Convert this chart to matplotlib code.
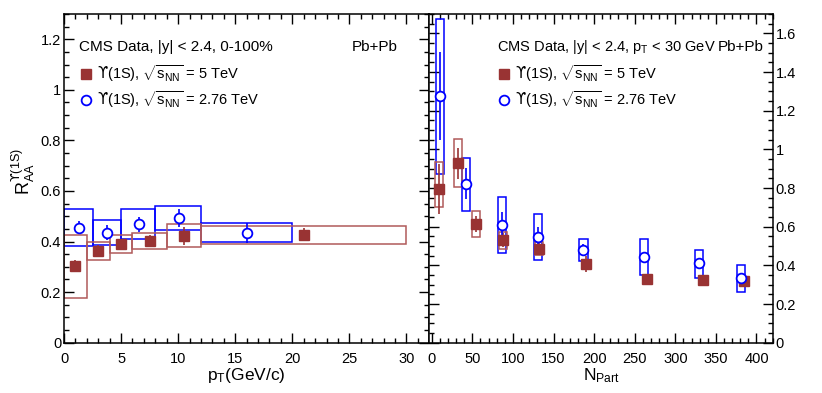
import matplotlib
matplotlib.use("Agg")
import matplotlib.pyplot as plt
from matplotlib.lines import Line2D
from matplotlib.ticker import MultipleLocator, FuncFormatter

plt.rcParams['font.family'] = ['Liberation Sans', 'DejaVu Sans']
plt.rcParams['mathtext.fontset'] = 'custom'
plt.rcParams['mathtext.rm'] = 'Liberation Sans'
plt.rcParams['mathtext.it'] = 'Liberation Sans:italic'
plt.rcParams['mathtext.bf'] = 'Liberation Sans:bold'
plt.rcParams['mathtext.sf'] = 'DejaVu Sans'
plt.rcParams['mathtext.default'] = 'regular'

# ---------------- data: R_AA vs pT ----------------
pt_5_x = [1.0, 3.0, 5.0, 7.5, 10.5, 21.0]
pt_5_y = [0.303, 0.362, 0.390, 0.402, 0.423, 0.427]
pt_5_stat = [0.025, 0.025, 0.02, 0.025, 0.036, 0.025]
pt_5_lo_edge = [0, 2, 4, 6, 9, 12]
pt_5_hi_edge = [2, 4, 6, 9, 12, 30]
pt_5_sys_lo = [0.178, 0.327, 0.353, 0.369, 0.377, 0.389]
pt_5_sys_hi = [0.426, 0.397, 0.426, 0.435, 0.468, 0.461]

pt_276_x = [1.3, 3.8, 6.6, 10.1, 16.0]
pt_276_y = [0.455, 0.435, 0.468, 0.492, 0.435]
pt_276_stat = [0.025, 0.03, 0.03, 0.035, 0.04]
pt_276_lo_edge = [0, 2.5, 5, 8, 12]
pt_276_hi_edge = [2.5, 5, 8, 12, 20]
pt_276_sys_lo = [0.383, 0.386, 0.411, 0.445, 0.397]
pt_276_sys_hi = [0.527, 0.485, 0.527, 0.540, 0.474]

# ---------------- data: R_AA vs Npart ----------------
np_5_x = [9, 32, 55, 88, 132, 190, 265, 334, 385]
np_5_y = [0.796, 0.927, 0.615, 0.530, 0.486, 0.406, 0.327, 0.323, 0.320]
np_5_stat = [0.13, 0.08, 0.04, 0.035, 0.03, 0.04, 0.01, 0.01, 0.01]
np_5_sys_lo = [0.700, 0.806, 0.548, 0.486, 0.453, 0.379, 0.312, 0.308, 0.306]
np_5_sys_hi = [0.933, 1.054, 0.679, 0.575, 0.522, 0.430, 0.342, 0.338, 0.334]

np_276_x = [9.9, 42.7, 87, 130.6, 186.9, 261.6, 329.4, 380.7]
np_276_y = [1.276, 0.822, 0.608, 0.549, 0.479, 0.444, 0.413, 0.334]
np_276_stat = [0.23, 0.08, 0.068, 0.05, 0.03, 0.025, 0.025, 0.02]
np_276_sys_lo = [0.875, 0.680, 0.465, 0.427, 0.420, 0.351, 0.337, 0.264]
np_276_sys_hi = [1.676, 0.956, 0.754, 0.668, 0.537, 0.537, 0.482, 0.400]
np_box_width = 10

BROWN = '#993333'
BROWN_BOX = '#b05a5a'
BLUE = '#0000ff'

lab5 = '$\\mathsf{ϒ}$(1S), $\\sqrt{s_{NN}}$ = 5 TeV'
lab276 = '$\\mathsf{ϒ}$(1S), $\\sqrt{s_{NN}}$ = 2.76 TeV'

fig = plt.figure(figsize=(8.22, 3.93), dpi=100)
axL = fig.add_axes([64/822, 1-342.7/393, 365.3/822, 328.7/393])
axR = fig.add_axes([429.3/822, 1-342.7/393, 343.4/822, 328.7/393])

def fmt(v, pos):
    return '%g' % round(v, 3)

# ---- left panel ----
axL.bar([(a+b)/2 for a, b in zip(pt_276_lo_edge, pt_276_hi_edge)],
        [h-l for h, l in zip(pt_276_sys_hi, pt_276_sys_lo)],
        width=[b-a for a, b in zip(pt_276_lo_edge, pt_276_hi_edge)],
        bottom=pt_276_sys_lo, fill=False, edgecolor=BLUE, linewidth=1.1, zorder=2)
axL.bar([(a+b)/2 for a, b in zip(pt_5_lo_edge, pt_5_hi_edge)],
        [h-l for h, l in zip(pt_5_sys_hi, pt_5_sys_lo)],
        width=[b-a for a, b in zip(pt_5_lo_edge, pt_5_hi_edge)],
        bottom=pt_5_sys_lo, fill=False, edgecolor=BROWN_BOX, linewidth=1.1, zorder=2)
axL.errorbar(pt_5_x, pt_5_y, yerr=pt_5_stat, fmt='s', color=BROWN, ms=7,
             elinewidth=1.2, capsize=0, zorder=4)
axL.errorbar(pt_276_x, pt_276_y, yerr=pt_276_stat, fmt='o', color=BLUE, mfc='white',
             mec=BLUE, mew=1.3, ms=7, elinewidth=1.2, capsize=0, zorder=4)
axL.set_xlim(0, 32)
axL.set_ylim(0, 1.3)
axL.xaxis.set_major_locator(MultipleLocator(5))
axL.xaxis.set_minor_locator(MultipleLocator(1))
axL.yaxis.set_major_locator(MultipleLocator(0.2))
axL.yaxis.set_minor_locator(MultipleLocator(0.05))
axL.yaxis.set_major_formatter(FuncFormatter(fmt))
axL.set_xlabel(r'p$_{T}$(GeV/c)', fontsize=12.5, labelpad=0)
axL.set_ylabel('R$_{AA}^{\\mathsf{ϒ}(1S)}$', fontsize=13)
axL.yaxis.set_label_coords(-0.074, 0.52)

axL.text(0.041, 0.90, 'CMS Data, |y| < 2.4, 0-100%', transform=axL.transAxes,
         fontsize=11, va='center', ha='left')
axL.text(0.788, 0.90, 'Pb+Pb', transform=axL.transAxes, fontsize=11, va='center', ha='left')

# ---- right panel ----
axR.bar(np_276_x, [h-l for h, l in zip(np_276_sys_hi, np_276_sys_lo)], width=np_box_width,
        bottom=np_276_sys_lo, fill=False, edgecolor=BLUE, linewidth=1.1, zorder=2)
axR.bar(np_5_x, [h-l for h, l in zip(np_5_sys_hi, np_5_sys_lo)], width=np_box_width,
        bottom=np_5_sys_lo, fill=False, edgecolor=BROWN_BOX, linewidth=1.1, zorder=2)
axR.errorbar(np_5_x, np_5_y, yerr=np_5_stat, fmt='s', color=BROWN, ms=7,
             elinewidth=1.2, capsize=0, zorder=4)
axR.errorbar(np_276_x, np_276_y, yerr=np_276_stat, fmt='o', color=BLUE, mfc='white',
             mec=BLUE, mew=1.3, ms=7, elinewidth=1.2, capsize=0, zorder=4)
axR.set_xlim(-3, 420)
axR.set_ylim(0, 1.7)
axR.xaxis.set_major_locator(MultipleLocator(50))
axR.xaxis.set_minor_locator(MultipleLocator(10))
axR.yaxis.set_major_locator(MultipleLocator(0.2))
axR.yaxis.set_minor_locator(MultipleLocator(0.05))
axR.yaxis.set_major_formatter(FuncFormatter(fmt))
axR.set_xlabel(r'N$_{Part}$', fontsize=12.5, labelpad=0)
axR.text(0.196, 0.90, r'CMS Data, |y| < 2.4, p$_{T}$ < 30 GeV', transform=axR.transAxes,
         fontsize=10.5, va='center', ha='left')
axR.text(0.841, 0.90, 'Pb+Pb', transform=axR.transAxes, fontsize=11, va='center', ha='left')

for ax, right_labels in ((axL, False), (axR, True)):
    ax.tick_params(which='both', direction='in', top=True, right=True,
                   labelsize=10.5, width=1.0)
    ax.tick_params(which='major', length=7)
    ax.tick_params(which='minor', length=3.5)
    ax.tick_params(axis='x', pad=7)
    ax.tick_params(axis='y', pad=2)
    if right_labels:
        ax.tick_params(axis='y', labelleft=False, labelright=True)
    for s in ax.spines.values():
        s.set_linewidth(1.1)

handles = [Line2D([], [], marker='s', ls='none', color=BROWN, ms=7),
           Line2D([], [], marker='o', ls='none', mfc='white', mec=BLUE, mew=1.3, ms=7)]
for ax, x0 in ((axL, 0.048), (axR, 0.205)):
    ax.legend(handles, [lab5, lab276], loc='upper left', bbox_to_anchor=(x0, 0.85),
              frameon=False, fontsize=10.5, handlelength=0.6, handletextpad=0.45,
              labelspacing=0.4, borderaxespad=0, borderpad=0)

fig.savefig('out.png', dpi=100)
